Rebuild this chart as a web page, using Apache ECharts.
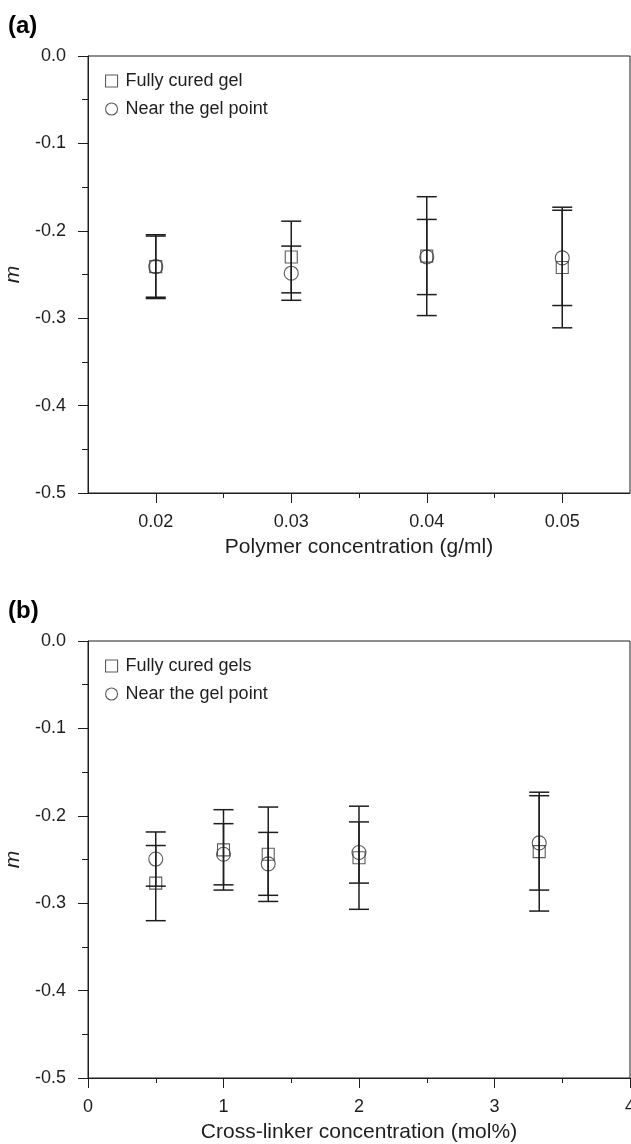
<!DOCTYPE html>
<html>
<head>
<meta charset="utf-8">
<script src="https://cdn.jsdelivr.net/npm/echarts@6/dist/echarts.min.js"></script>
<style>
  html, body { margin: 0; padding: 0; background: #fff; }
  #chart { width: 631px; height: 1144px; }
</style>
</head>
<body>
<div id="chart"></div>
<script>
// (a) exponent m versus polymer concentration
const polymerConc = [0.02, 0.03, 0.04, 0.05];
const curedA = [-0.241, -0.230, -0.229, -0.242];
const curedAErr = [0.035, 0.041, 0.068, 0.069];
const gelPointA = [-0.241, -0.2485, -0.230, -0.231];
const gelPointAErr = [0.0365, 0.031, 0.043, 0.0545];

// (b) exponent m versus cross-linker concentration
const crossLinker = [0.5, 1, 1.33, 2, 3.33];
const curedB = [-0.277, -0.239, -0.244, -0.248, -0.241];
const curedBErr = [0.043, 0.046, 0.054, 0.059, 0.068];
const gelPointB = [-0.2495, -0.244, -0.255, -0.242, -0.231];
const gelPointBErr = [0.031, 0.035, 0.036, 0.035, 0.054];

const polymerTicks = [0.02, 0.03, 0.04, 0.05];
const polymerMinorTicks = [0.025, 0.035, 0.045];

const INK = '#1e1e1e';
const FONT = 'Liberation Sans, Arial, sans-serif';

const pairs = (xs, ys) => xs.map((x, i) => [x, ys[i]]);
const bars = (xs, ys, es) => xs.map((x, i) => [x, ys[i] - es[i], ys[i] + es[i]]);

function renderErrorBar(params, api) {
  const x = api.value(0);
  const lo = api.coord([x, api.value(1)]);
  const hi = api.coord([x, api.value(2)]);
  const hw = 10;
  const st = { stroke: INK, lineWidth: 1.5 };
  return {
    type: 'group',
    children: [
      { type: 'line', shape: { x1: lo[0], y1: lo[1], x2: hi[0], y2: hi[1] }, style: st },
      { type: 'line', shape: { x1: lo[0] - hw, y1: lo[1], x2: lo[0] + hw, y2: lo[1] }, style: st },
      { type: 'line', shape: { x1: hi[0] - hw, y1: hi[1], x2: hi[0] + hw, y2: hi[1] }, style: st }
    ]
  };
}

const hollow = { color: 'rgba(0,0,0,0)', borderColor: '#333', borderWidth: 1.1 };

const grids = [
  { left: 88, right: 1, top: 56, height: 437 },
  { left: 88, right: 1, top: 641, height: 437 }
];

function yAxisFor(gridIndex) {
  return {
    type: 'value', gridIndex, min: -0.5, max: 0, interval: 0.1,
    name: 'm', nameLocation: 'middle', nameGap: 62,
    nameTextStyle: { fontFamily: FONT, fontSize: 21, fontStyle: 'italic', color: INK },
    axisLine: { show: true, lineStyle: { color: INK, width: 1 } },
    axisTick: { show: true, length: 10, lineStyle: { color: INK, width: 1 } },
    minorTick: { show: true, splitNumber: 2, length: 6, lineStyle: { color: INK, width: 1 } },
    splitLine: { show: false },
    axisLabel: { fontFamily: FONT, fontSize: 18, color: INK, margin: 22,
      formatter: v => v.toFixed(1) }
  };
}

const option = {
  animation: false,
  backgroundColor: '#fff',
  grid: grids.map(g => Object.assign({ show: true, borderColor: INK, borderWidth: 1,
    containLabel: false, outerBoundsMode: 'none' }, g)),
  xAxis: [
    {
      type: 'value', gridIndex: 0, min: 0.015, max: 0.055,
      name: 'Polymer concentration (g/ml)', nameLocation: 'middle', nameGap: 44,
      nameTextStyle: { fontFamily: FONT, fontSize: 21, color: INK },
      axisLine: { show: true, onZero: false, lineStyle: { color: INK, width: 1 } },
      axisTick: { show: true, length: 10, customValues: polymerTicks, lineStyle: { color: INK, width: 1 } },
      axisLabel: { fontFamily: FONT, fontSize: 18, color: INK, margin: 20,
        customValues: polymerTicks, formatter: v => v.toFixed(2) },
      splitLine: { show: false }
    },
    {
      type: 'value', gridIndex: 0, min: 0.015, max: 0.055, position: 'bottom',
      axisLine: { show: false, onZero: false },
      axisTick: { show: true, length: 5, customValues: polymerMinorTicks, lineStyle: { color: INK, width: 1 } },
      axisLabel: { show: false },
      splitLine: { show: false }
    },
    {
      type: 'value', gridIndex: 1, min: 0, max: 4, interval: 1,
      name: 'Cross-linker concentration (mol%)', nameLocation: 'middle', nameGap: 44,
      nameTextStyle: { fontFamily: FONT, fontSize: 21, color: INK },
      axisLine: { show: true, onZero: false, lineStyle: { color: INK, width: 1 } },
      axisTick: { show: true, length: 10, lineStyle: { color: INK, width: 1 } },
      minorTick: { show: true, splitNumber: 2, length: 5, lineStyle: { color: INK, width: 1 } },
      axisLabel: { fontFamily: FONT, fontSize: 18, color: INK, margin: 20, showMaxLabel: true,
        hideOverlap: false },
      splitLine: { show: false }
    }
  ],
  yAxis: [yAxisFor(0), yAxisFor(1)],
  legend: [
    {
      orient: 'vertical', left: 100, top: 67, itemWidth: 12, itemHeight: 12, itemGap: 10,
      selectedMode: false,
      textStyle: { fontFamily: FONT, fontSize: 18, color: INK, padding: [0, 0, 0, 3] },
      data: [
        { name: 'Fully cured gel', icon: 'rect', itemStyle: hollow },
        { name: 'Near the gel point', icon: 'circle', itemStyle: hollow }
      ]
    },
    {
      orient: 'vertical', left: 100, top: 652, itemWidth: 12, itemHeight: 12, itemGap: 10,
      selectedMode: false,
      textStyle: { fontFamily: FONT, fontSize: 18, color: INK, padding: [0, 0, 0, 3] },
      data: [
        { name: 'Fully cured gels', icon: 'rect', itemStyle: hollow },
        { name: 'Near the gel point ', icon: 'circle', itemStyle: hollow }
      ]
    }
  ],
  graphic: [
    { type: 'text', left: 8, top: 14, style: { text: '(a)', font: 'bold 24px ' + FONT, fill: '#000' } },
    { type: 'text', left: 8, top: 599, style: { text: '(b)', font: 'bold 24px ' + FONT, fill: '#000' } }
  ],
  series: [
    { name: 'Fully cured gel', type: 'scatter', xAxisIndex: 0, yAxisIndex: 0,
      symbol: 'rect', symbolSize: 12, itemStyle: hollow, data: pairs(polymerConc, curedA), z: 3 },
    { name: 'Near the gel point', type: 'scatter', xAxisIndex: 0, yAxisIndex: 0,
      symbol: 'circle', symbolSize: 14, itemStyle: hollow, data: pairs(polymerConc, gelPointA), z: 3 },
    { type: 'custom', xAxisIndex: 0, yAxisIndex: 0, renderItem: renderErrorBar,
      encode: { x: 0, y: [1, 2] }, data: bars(polymerConc, curedA, curedAErr), z: 4 },
    { type: 'custom', xAxisIndex: 0, yAxisIndex: 0, renderItem: renderErrorBar,
      encode: { x: 0, y: [1, 2] }, data: bars(polymerConc, gelPointA, gelPointAErr), z: 4 },

    { name: 'Fully cured gels', type: 'scatter', xAxisIndex: 2, yAxisIndex: 1,
      symbol: 'rect', symbolSize: 12, itemStyle: hollow, data: pairs(crossLinker, curedB), z: 3 },
    { name: 'Near the gel point ', type: 'scatter', xAxisIndex: 2, yAxisIndex: 1,
      symbol: 'circle', symbolSize: 14, itemStyle: hollow, data: pairs(crossLinker, gelPointB), z: 3 },
    { type: 'custom', xAxisIndex: 2, yAxisIndex: 1, renderItem: renderErrorBar,
      encode: { x: 0, y: [1, 2] }, data: bars(crossLinker, curedB, curedBErr), z: 4 },
    { type: 'custom', xAxisIndex: 2, yAxisIndex: 1, renderItem: renderErrorBar,
      encode: { x: 0, y: [1, 2] }, data: bars(crossLinker, gelPointB, gelPointBErr), z: 4 }
  ]
};

const chart = echarts.init(document.getElementById('chart'), null, { renderer: 'canvas' });
chart.setOption(option);
</script>
</body>
</html>
